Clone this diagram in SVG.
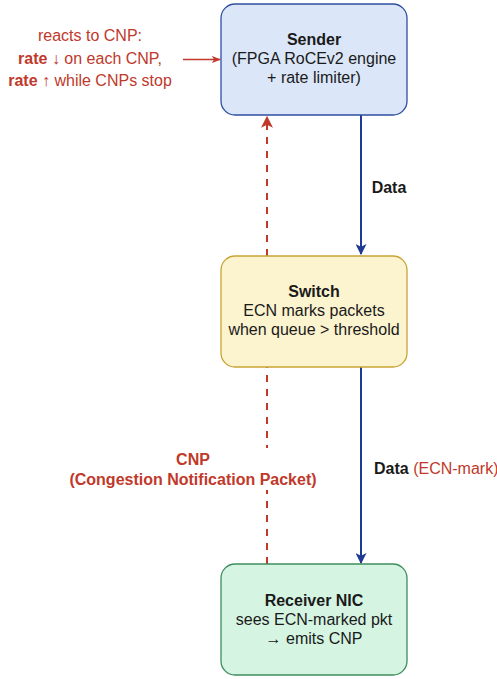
<svg xmlns="http://www.w3.org/2000/svg" width="497" height="679" viewBox="0 0 497 679">
  <style>
    text { font-family: "Liberation Sans", Arial, sans-serif; font-size: 16px; }
    .c { text-anchor: middle; }
    .b { font-weight: bold; }
    .ink { fill: #1a1a1a; }
    .red { fill: #c0392b; }
    .data { stroke: #1f3a93; stroke-width: 2; fill: none; }
    .cnp { stroke: #c0392b; stroke-width: 2; fill: none; stroke-dasharray: 7 7; }
    .note { stroke: #c0392b; stroke-width: 1.3; fill: none; }
  </style>
  <defs>
    <marker id="headBlue" viewBox="0 0 10 10" refX="9" refY="5" markerWidth="5.5" markerHeight="5.5" orient="auto" markerUnits="strokeWidth">
      <path d="M0,0 L10,5 L0,10 L2.5,5 Z" fill="#1f3a93"/>
    </marker>
    <marker id="headRed" viewBox="0 0 10 10" refX="9" refY="5" markerWidth="6" markerHeight="6" orient="auto" markerUnits="strokeWidth">
      <path d="M0,0 L10,5 L0,10 L2.5,5 Z" fill="#c0392b"/>
    </marker>
    <marker id="headRedThin" viewBox="0 0 10 10" refX="9" refY="5" markerWidth="7" markerHeight="7" orient="auto" markerUnits="strokeWidth">
      <path d="M0,1 L10,5 L0,9 L2.5,5 Z" fill="#c0392b"/>
    </marker>
  </defs>

  <!-- connectors -->
  <g id="connectors">
    <!-- data path: sender to switch -->
    <line class="data" x1="361" y1="115" x2="361" y2="254" marker-end="url(#headBlue)"/>
    <text class="b ink" x="389" y="193" text-anchor="middle">Data</text>

    <!-- data path: switch to receiver (ECN-marked) -->
    <line class="data" x1="361" y1="367" x2="361" y2="563" marker-end="url(#headBlue)"/>
    <text x="374" y="474"><tspan class="b ink">Data</tspan><tspan class="red"> (ECN-mark)</tspan></text>

    <!-- CNP feedback: receiver back to sender -->
    <line class="cnp" x1="267" y1="564" x2="267" y2="117" marker-end="url(#headRed)"/>
    <rect x="66" y="448" width="254" height="42" fill="#ffffff"/>
    <text class="c b red" x="193" y="465">CNP</text>
    <text class="c b red" x="193" y="485">(Congestion Notification Packet)</text>

    <!-- rate reaction note pointing at the sender -->
    <line class="note" x1="183" y1="59.5" x2="220" y2="59.5" marker-end="url(#headRedThin)"/>
    <text class="c red" x="90" y="41">reacts to CNP:</text>
    <text class="c red" x="90" y="64"><tspan class="b">rate</tspan> ↓ on each CNP,</text>
    <text class="c red" x="90" y="86"><tspan class="b">rate</tspan> ↑ while CNPs stop</text>
  </g>

  <!-- sender -->
  <g id="sender">
    <rect x="221" y="4" width="186" height="111" rx="14" ry="14" fill="#dbe6f8" stroke="#2f4f9f" stroke-width="1.3"/>
    <text class="c b ink" x="314" y="45">Sender</text>
    <text class="c ink" x="314" y="64">(FPGA RoCEv2 engine</text>
    <text class="c ink" x="314" y="83">+ rate limiter)</text>
  </g>

  <!-- switch -->
  <g id="switch">
    <rect x="221" y="256" width="186" height="111" rx="14" ry="14" fill="#fcf3cf" stroke="#c9a434" stroke-width="1.3"/>
    <text class="c b ink" x="314" y="297">Switch</text>
    <text class="c ink" x="314" y="316">ECN marks packets</text>
    <text class="c ink" x="314" y="335">when queue &gt; threshold</text>
  </g>

  <!-- receiver -->
  <g id="receiver">
    <rect x="221" y="564" width="186" height="111" rx="14" ry="14" fill="#d5f4e2" stroke="#3c8d5c" stroke-width="1.3"/>
    <text class="c b ink" x="314" y="606">Receiver NIC</text>
    <text class="c ink" x="314" y="625">sees ECN-marked pkt</text>
    <text class="c ink" x="314" y="644">→ emits CNP</text>
  </g>
</svg>
